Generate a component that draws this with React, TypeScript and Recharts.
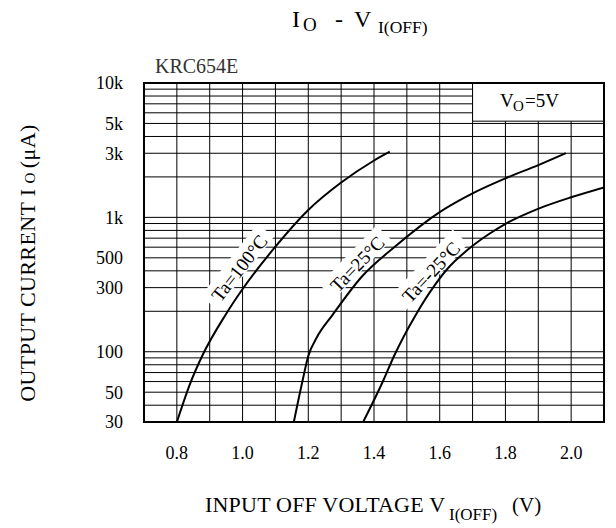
import React from 'react';
import { LineChart, Line, XAxis, YAxis, CartesianGrid, ReferenceArea, ReferenceDot } from 'recharts';

// Ta = 100°C
const vTa100 = [0.8, 0.841, 0.877, 0.948, 0.998, 1.1, 1.2, 1.298, 1.399, 1.448];
const ioTa100 = [30, 58.5, 93, 188, 288, 605, 1134, 1800, 2639, 3079];

// Ta = 25°C
const vTa25 = [1.156, 1.181, 1.2, 1.225, 1.274, 1.362, 1.466, 1.6, 1.7, 1.8, 1.9, 1.984];
const ioTa25 = [30, 58.5, 93, 126.5, 188, 360, 612, 1095, 1509, 1952, 2451, 3010];

// Ta = -25°C
const vTaM25 = [1.367, 1.429, 1.461, 1.527, 1.585, 1.625, 1.684, 1.75, 1.799, 1.901, 2.002, 2.1];
const ioTaM25 = [30, 61.6, 93, 188, 313, 418, 571, 752, 892, 1163, 1417, 1673];

const xTicks = [0.8, 1.0, 1.2, 1.4, 1.6, 1.8, 2.0];
const yTicks = [30, 50, 100, 300, 500, 1000, 3000, 5000, 10000];
const xGrid = [0.7, 0.8, 0.9, 1.0, 1.1, 1.2, 1.3, 1.4, 1.5, 1.6, 1.7, 1.8, 1.9, 2.0, 2.1];
const yGrid = [
  30, 40, 50, 60, 70, 80, 90, 100, 200, 300, 400, 500, 600, 700, 800, 900,
  1000, 2000, 3000, 4000, 5000, 6000, 7000, 8000, 9000, 10000,
];

const curveNames = ['Ta=100°C', 'Ta=25°C', 'Ta=-25°C'];
const tagV = [0.99, 1.349, 1.573];
const tagIo = [420, 450, 392];
const tagAngle = [-52, -46, -47];

const serif = '"Liberation Serif", "Times New Roman", serif';

const toRows = (v: number[], io: number[]) => v.map((x, i) => ({ v: x, io: io[i] }));
const series = [toRows(vTa100, ioTa100), toRows(vTa25, ioTa25), toRows(vTaM25, ioTaM25)];

const fmtY = (n: number) => (n >= 1000 ? `${n / 1000}k` : `${n}`);

const makeTag = (text: string, angle: number) => (props: any) => {
  const vb = props.viewBox || {};
  const cx = (vb.x ?? 0) + (vb.width ?? 0) / 2;
  const cy = (vb.y ?? 0) + (vb.height ?? 0) / 2;
  const w = text.length * 10 + 12;
  return (
    <g transform={`translate(${cx},${cy}) rotate(${angle})`}>
      <rect x={-w / 2} y={-13} width={w} height={21} fill="#fff" />
      <text x={0} y={0} dy="0.35em" textAnchor="middle" fontSize={19} fontFamily={serif} fill="#000">
        {text}
      </text>
    </g>
  );
};

export default function App() {
  return (
    <div style={{ position: 'absolute', left: 0, top: 0, width: 616, height: 528, background: '#fff' }}>
      <LineChart width={616} height={528} margin={{ top: 83, right: 12, bottom: 76, left: 0 }}>
        <CartesianGrid stroke="#000" strokeWidth={1} horizontalValues={yGrid} verticalValues={xGrid} />
        <XAxis
          type="number"
          dataKey="v"
          domain={[0.7, 2.1]}
          ticks={xTicks}
          interval={0}
          allowDataOverflow
          height={30}
          tickSize={0}
          tickMargin={24}
          axisLine={false}
          tickLine={false}
          tickFormatter={(n: number) => n.toFixed(1)}
          tick={{ fill: '#000', fontSize: 18, fontFamily: serif }}
        />
        <YAxis
          type="number"
          dataKey="io"
          scale="log"
          domain={[30, 10000]}
          ticks={yTicks}
          interval={0}
          allowDataOverflow
          width={144}
          tickSize={0}
          tickMargin={21}
          axisLine={false}
          tickLine={false}
          tickFormatter={fmtY}
          tick={{ fill: '#000', fontSize: 18, fontFamily: serif }}
        />
        <ReferenceArea x1={1.7} x2={2.1} y1={5200} y2={10000} fill="#fff" fillOpacity={1} stroke="#000" />
        {curveNames.map((name, i) => (
          <ReferenceDot
            key={name}
            x={tagV[i]}
            y={tagIo[i]}
            r={0}
            fill="none"
            stroke="none"
            label={makeTag(name, tagAngle[i])}
          />
        ))}
        {series.map((rows, i) => (
          <Line
            key={curveNames[i]}
            data={rows}
            dataKey="io"
            type="monotone"
            stroke="#000"
            strokeWidth={2}
            dot={false}
            isAnimationActive={false}
          />
        ))}
        <ReferenceArea x1={0.7} x2={2.1} y1={30} y2={10000} fill="none" stroke="#000" strokeWidth={2} />
      </LineChart>
      <svg
        width={616}
        height={528}
        style={{ position: 'absolute', left: 0, top: 0, pointerEvents: 'none' }}
        fontFamily={serif}
      >
        <text x={292} y={27} fontSize={24}>I</text>
        <text x={303} y={31} fontSize={19}>O</text>
        <text x={335} y={27} fontSize={24}>-</text>
        <text x={354} y={27} fontSize={24}>V</text>
        <text x={378} y={33} fontSize={17.5}>I(OFF)</text>

        <text x={155} y={73} fontSize={20} fill="#333">KRC654E</text>

        <text x={500} y={107} fontSize={19}>V</text>
        <text x={513} y={111} fontSize={15}>O</text>
        <text x={525} y={107} fontSize={19}>=5V</text>

        <text x={205} y={512} fontSize={22} letterSpacing={0.2}>INPUT OFF VOLTAGE V</text>
        <text x={449} y={520} fontSize={17}>I(OFF)</text>
        <text x={512} y={512} fontSize={21}>(V)</text>

        <g transform="translate(35,263) rotate(-90)">
          <text x={0} y={0} textAnchor="middle" fontSize={22} letterSpacing={0.4}>
            OUTPUT CURRENT I<tspan fontSize={15} dx={5}>O</tspan>
            <tspan fontSize={22} dx={4}>(μA)</tspan>
          </text>
        </g>
      </svg>
    </div>
  );
}
